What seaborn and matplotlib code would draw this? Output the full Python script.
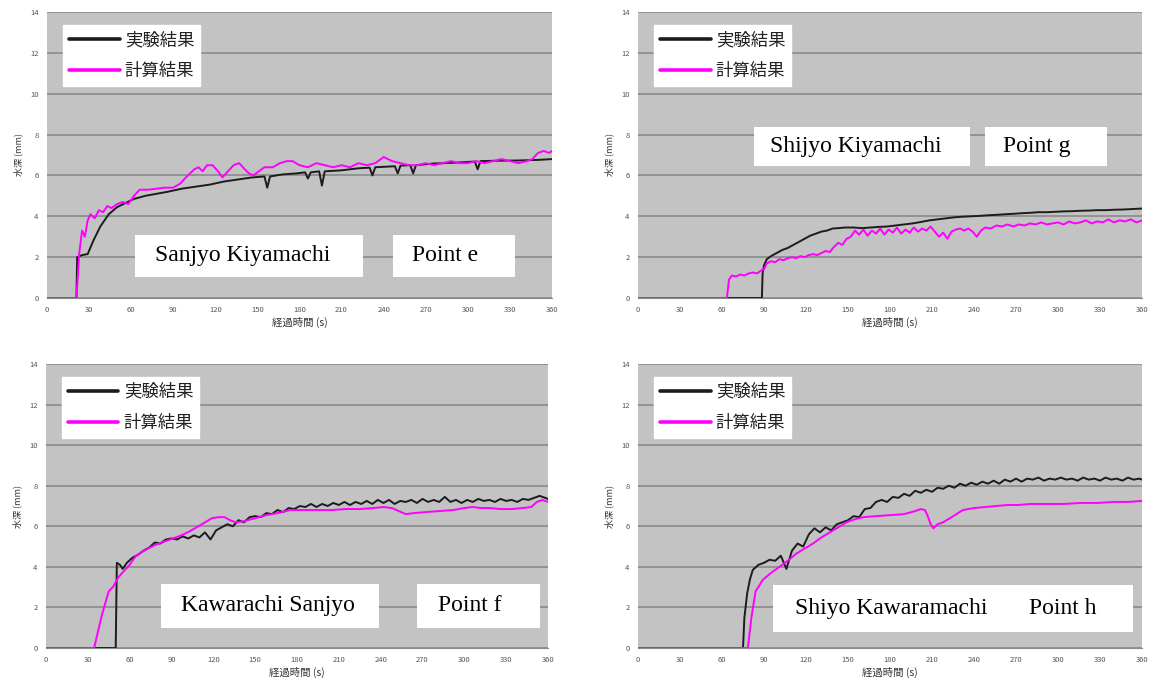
import matplotlib.pyplot as plt
import seaborn as sns
from matplotlib.patches import Rectangle

# ---- Point e (Sanjyo Kiyamachi) ----
t_e_exp = [0, 21, 21.5, 25, 29, 33, 38, 44, 50, 56,
           62, 70, 78, 86, 96, 106, 116, 126, 136, 146,
           155, 157, 159, 168, 178, 184, 186, 188, 194, 196,
           198, 210, 222, 230, 232, 234, 248, 250, 252, 259,
           261, 263, 275, 290, 305, 307, 309, 320, 335, 350,
           360]
y_e_exp = [0, 0, 2.0, 2.1, 2.15, 2.8, 3.5, 4.1, 4.45, 4.65,
           4.85, 5.0, 5.1, 5.2, 5.35, 5.45, 5.55, 5.7, 5.8, 5.9,
           5.95, 5.4, 5.95, 6.05, 6.1, 6.15, 5.85, 6.15, 6.2, 5.5,
           6.2, 6.25, 6.35, 6.38, 6.0, 6.4, 6.45, 6.1, 6.48, 6.5,
           6.1, 6.5, 6.58, 6.62, 6.68, 6.3, 6.7, 6.72, 6.73, 6.76,
           6.8]
t_e_calc = [0, 21, 23, 25, 27, 29, 31, 34, 37, 40,
            43, 46, 50, 54, 58, 62, 66, 72, 78, 84,
            90, 95, 99, 102, 105, 108, 111, 114, 118, 122,
            125, 129, 133, 137, 141, 144, 147, 151, 155, 161,
            166, 171, 175, 180, 186, 192, 198, 204, 210, 216,
            222, 228, 234, 240, 246, 252, 258, 264, 270, 276,
            282, 288, 294, 300, 306, 312, 318, 324, 330, 336,
            342, 346, 350, 354, 358, 360]
y_e_calc = [0, 0, 2.2, 3.3, 3.0, 3.8, 4.1, 3.9, 4.3, 4.2,
            4.5, 4.4, 4.6, 4.7, 4.6, 5.0, 5.3, 5.3, 5.35, 5.4,
            5.4, 5.6, 5.9, 6.1, 6.3, 6.4, 6.2, 6.5, 6.5, 6.2,
            5.9, 6.2, 6.5, 6.6, 6.3, 6.1, 6.0, 6.2, 6.4, 6.4,
            6.6, 6.7, 6.7, 6.5, 6.4, 6.6, 6.5, 6.4, 6.5, 6.4,
            6.6, 6.5, 6.6, 6.9, 6.7, 6.6, 6.5, 6.5, 6.6, 6.5,
            6.6, 6.7, 6.6, 6.6, 6.7, 6.6, 6.7, 6.8, 6.7, 6.6,
            6.7, 6.8, 7.1, 7.2, 7.1, 7.2]

# ---- Point g (Shijyo Kiyamachi) ----
t_g_exp = [0, 88.5, 89, 90, 92, 95, 99, 103, 107, 111,
           115, 119, 123, 127, 131, 135, 139, 143, 148, 154,
           160, 166, 172, 178, 184, 190, 196, 202, 208, 214,
           220, 226, 232, 238, 244, 250, 256, 262, 268, 274,
           280, 286, 292, 298, 304, 310, 316, 322, 328, 334,
           340, 346, 352, 360]
y_g_exp = [0, 0, 1.2, 1.6, 1.9, 2.05, 2.2, 2.35, 2.45, 2.6,
           2.75, 2.9, 3.05, 3.15, 3.25, 3.3, 3.4, 3.42, 3.45, 3.45,
           3.42, 3.45, 3.48, 3.5, 3.55, 3.6, 3.65, 3.72, 3.8, 3.85,
           3.9, 3.95, 3.98, 4.0, 4.02, 4.05, 4.07, 4.1, 4.12, 4.15,
           4.17, 4.2, 4.2, 4.22, 4.24, 4.25, 4.27, 4.28, 4.3, 4.3,
           4.32, 4.33, 4.35, 4.38]
t_g_calc = [0, 63.5, 65, 67, 70, 73, 76, 79, 82, 85,
            88, 90, 92, 95, 98, 101, 104, 107, 110, 113,
            116, 119, 122, 125, 128, 131, 134, 137, 140, 143,
            146, 149, 152, 155, 158, 161, 164, 167, 170, 173,
            176, 179, 182, 185, 188, 191, 194, 197, 200, 203,
            206, 209, 212, 215, 218, 221, 224, 227, 230, 233,
            236, 239, 242, 245, 248, 252, 256, 260, 264, 268,
            272, 276, 280, 284, 288, 292, 296, 300, 304, 308,
            312, 316, 320, 324, 328, 332, 336, 340, 344, 348,
            352, 356, 360]
y_g_calc = [0, 0, 0.9, 1.1, 1.05, 1.15, 1.1, 1.2, 1.25, 1.2,
            1.35, 1.4, 1.7, 1.8, 1.75, 1.9, 1.85, 1.95, 2.0, 1.95,
            2.05, 2.0, 2.1, 2.15, 2.1, 2.2, 2.3, 2.25, 2.5, 2.7,
            2.6, 2.9, 3.0, 3.3, 3.1, 3.35, 3.05, 3.3, 3.15, 3.4,
            3.1, 3.35, 3.2, 3.45, 3.15, 3.35, 3.2, 3.45, 3.25, 3.4,
            3.3, 3.5, 3.25, 3.0, 3.2, 2.9, 3.25, 3.35, 3.4, 3.3,
            3.4, 3.25, 3.0, 3.3, 3.45, 3.4, 3.55, 3.5, 3.6, 3.5,
            3.6, 3.55, 3.65, 3.6, 3.7, 3.6, 3.65, 3.7, 3.6, 3.75,
            3.65, 3.7, 3.8, 3.65, 3.75, 3.7, 3.85, 3.7, 3.8, 3.75,
            3.85, 3.7, 3.8]

# ---- Point f (Kawarachi Sanjyo) ----
t_f_exp = [0, 50, 50.8, 53, 55, 58] + list(range(62, 359, 4)) + [360]
y_f_exp = [0, 0, 4.2, 4.1, 3.9, 4.2,
           4.45, 4.6, 4.8, 4.95, 5.2, 5.15, 5.35, 5.4, 5.35, 5.5,
           5.4, 5.55, 5.45, 5.7, 5.35, 5.8, 5.95, 6.1, 6.0, 6.3,
           6.2, 6.45, 6.5, 6.45, 6.65, 6.6, 6.8, 6.7, 6.9, 6.85,
           7.0, 6.95, 7.1, 6.95, 7.1, 7.0, 7.15, 7.05, 7.2, 7.05,
           7.2, 7.1, 7.25, 7.1, 7.3, 7.15, 7.3, 7.1, 7.25, 7.2,
           7.3, 7.15, 7.35, 7.2, 7.3, 7.2, 7.45, 7.2, 7.3, 7.15,
           7.3, 7.2, 7.35, 7.25, 7.3, 7.2, 7.35, 7.25, 7.3, 7.2,
           7.35, 7.3, 7.4, 7.5, 7.4,
           7.35]
t_f_calc = [0, 34.5, 40, 45, 48, 52, 56, 60, 64, 68,
            73, 79, 85, 91, 97, 103, 108, 113, 119, 124,
            128, 132, 136, 142, 150, 158, 166, 175, 185, 195,
            205, 215, 225, 235, 242, 248, 253, 258, 264, 272,
            282, 292, 300, 306, 312, 318, 326, 334, 342, 348,
            352, 356, 360]
y_f_calc = [0, 0, 1.6, 2.8, 3.0, 3.5, 3.8, 4.1, 4.5, 4.7,
            4.9, 5.1, 5.25, 5.4, 5.55, 5.75, 5.95, 6.15, 6.4, 6.45,
            6.45, 6.3, 6.2, 6.25, 6.4, 6.55, 6.65, 6.8, 6.8, 6.8,
            6.8, 6.85, 6.85, 6.9, 6.95, 6.9, 6.75, 6.6, 6.65, 6.7,
            6.75, 6.8, 6.9, 6.95, 6.9, 6.9, 6.85, 6.85, 6.9, 6.95,
            7.2, 7.3, 7.2]

# ---- Point h (Shiyo Kawaramachi) ----
t_h_exp = [0, 75, 76, 78, 80, 82] + list(range(86, 359, 4)) + [360]
y_h_exp = [0, 0, 1.5, 2.7, 3.4, 3.85,
           4.1, 4.2, 4.35, 4.3, 4.55, 3.9, 4.8, 5.15, 5.0, 5.6,
           5.9, 5.7, 5.95, 5.8, 6.1, 6.2, 6.3, 6.5, 6.45, 6.85,
           6.9, 7.2, 7.3, 7.2, 7.45, 7.4, 7.6, 7.5, 7.75, 7.65,
           7.8, 7.7, 7.9, 7.85, 8.0, 7.9, 8.1, 8.0, 8.15, 8.05,
           8.2, 8.1, 8.25, 8.1, 8.3, 8.2, 8.35, 8.2, 8.35, 8.3,
           8.4, 8.25, 8.35, 8.3, 8.4, 8.3, 8.35, 8.25, 8.4, 8.3,
           8.35, 8.25, 8.4, 8.3, 8.35, 8.25, 8.4, 8.3, 8.35,
           8.3]
t_h_calc = [0, 78.5, 81, 84, 86, 89, 95, 101, 107, 113,
            119, 125, 131, 137, 143, 149, 155, 161, 170, 180,
            190, 198, 202, 205, 207, 209, 211, 214, 218, 224,
            232, 240, 248, 256, 264, 272, 280, 292, 304, 316,
            328, 340, 350, 360]
y_h_calc = [0, 0, 1.5, 2.8, 3.0, 3.35, 3.7, 4.0, 4.3, 4.65,
            4.9, 5.15, 5.45, 5.7, 5.95, 6.2, 6.35, 6.45, 6.5, 6.55,
            6.6, 6.75, 6.85, 6.8, 6.5, 6.1, 5.9, 6.1, 6.2, 6.45,
            6.8, 6.9, 6.95, 7.0, 7.05, 7.05, 7.1, 7.1, 7.1, 7.15,
            7.15, 7.2, 7.2, 7.25]

x_ticks = list(range(0, 361, 30))
y_ticks = list(range(0, 15, 2))
legend_labels = ["実験結果", "計算結果"]

sns.set_style("white")
plt.rcParams["font.family"] = ["Noto Sans CJK JP", "DejaVu Sans"]

W, H = 1151, 688
fig = plt.figure(figsize=(W / 100, H / 100), dpi=100)


def px_axes(left, top, right, bottom):
    return fig.add_axes([left / W, 1 - bottom / H, (right - left) / W, (bottom - top) / H])


def draw_panel(ax, t_exp, y_exp, t_calc, y_calc, boxes, texts):
    ax.set_facecolor("#c3c3c3")
    sns.lineplot(x=t_exp, y=y_exp, ax=ax, color="#1c1c1c", linewidth=1.4,
                 estimator=None, sort=False, label=legend_labels[0])
    sns.lineplot(x=t_calc, y=y_calc, ax=ax, color="#ff00ff", linewidth=1.4,
                 estimator=None, sort=False, label=legend_labels[1])
    ax.set_xlim(0, 360)
    ax.set_ylim(0, 14)
    ax.set_xticks(x_ticks)
    ax.set_yticks(y_ticks)
    ax.grid(axis="y", color="#858585", linewidth=1.1)
    ax.grid(axis="x", visible=False)
    for s in ["top", "right", "left"]:
        ax.spines[s].set_visible(False)
    ax.spines["bottom"].set_color("#8a8a8a")
    ax.tick_params(axis="x", direction="in", length=2.5, color="#8a8a8a",
                   labelsize=5.5, labelcolor="#555555", pad=6)
    ax.tick_params(axis="y", length=0, labelsize=5.5, labelcolor="#555555", pad=6)
    ax.set_xlabel("経過時間 (s)", fontsize=7.5, color="#333333", labelpad=2)
    ax.set_ylabel("水深 (mm)", fontsize=6.5, color="#333333", labelpad=5)

    leg = ax.legend(loc="upper left", bbox_to_anchor=(0.032, 0.955), frameon=True,
                    fancybox=False, framealpha=1, facecolor="white", edgecolor="white",
                    fontsize=12.5, handlelength=2.9, handletextpad=0.3,
                    labelspacing=0.75, borderpad=0.35, borderaxespad=0)
    for line in leg.get_lines():
        line.set_linewidth(2.6)
    for text in leg.get_texts():
        text.set_color("#222222")

    for (x0, y0, x1, y1) in boxes:
        ax.add_patch(Rectangle((x0, y0), x1 - x0, y1 - y0, transform=ax.transAxes,
                               facecolor="white", edgecolor="none", zorder=5))
    for (x, y, s) in texts:
        ax.text(x, y, s, transform=ax.transAxes, ha="left", va="center",
                family="Liberation Serif", fontsize=17, color="black", zorder=6)


ax_e = px_axes(47, 12, 552, 298)
draw_panel(ax_e, t_e_exp, y_e_exp, t_e_calc, y_e_calc,
           [(0.174, 0.073, 0.626, 0.220), (0.685, 0.073, 0.927, 0.220)],
           [(0.214, 0.147, "Sanjyo Kiyamachi"), (0.723, 0.147, "Point e")])

ax_g = px_axes(638, 12, 1142, 298)
draw_panel(ax_g, t_g_exp, y_g_exp, t_g_calc, y_g_calc,
           [(0.230, 0.462, 0.659, 0.598), (0.688, 0.462, 0.931, 0.598)],
           [(0.262, 0.530, "Shijyo Kiyamachi"), (0.724, 0.530, "Point g")])

ax_f = px_axes(46, 364, 548, 648)
draw_panel(ax_f, t_f_exp, y_f_exp, t_f_calc, y_f_calc,
           [(0.2285, 0.070, 0.663, 0.225), (0.740, 0.070, 0.985, 0.225)],
           [(0.268, 0.148, "Kawarachi Sanjyo"), (0.780, 0.148, "Point f")])

ax_h = px_axes(638, 364, 1142, 648)
draw_panel(ax_h, t_h_exp, y_h_exp, t_h_calc, y_h_calc,
           [(0.267, 0.057, 0.982, 0.222)],
           [(0.311, 0.140, "Shiyo Kawaramachi"), (0.776, 0.140, "Point h")])

fig.savefig("out.png", dpi=100, facecolor="white")
plt.close(fig)
